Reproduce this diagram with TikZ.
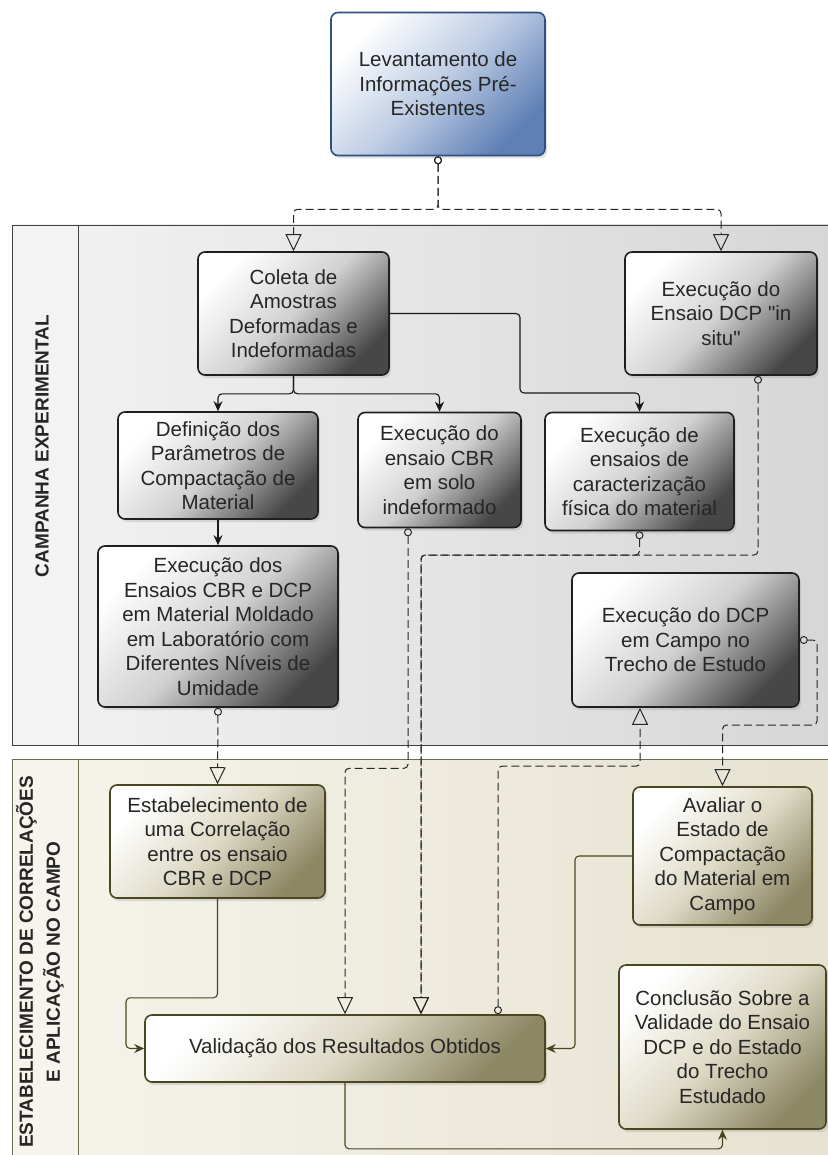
\documentclass[tikz,border=0pt]{standalone}
\usepackage{fontspec}
\setmainfont{Liberation Sans}[Ligatures=TeXOff]
\usetikzlibrary{arrows.meta, shadows, positioning}
\definecolor{flowblue}{RGB}{95, 128, 181}
\definecolor{flowbluelight}{RGB}{190, 205, 228}
\definecolor{flowbluedark}{RGB}{47, 79, 128}
\definecolor{flowolive}{RGB}{140, 135, 100}
\definecolor{flowolivelight}{RGB}{222, 218, 198}
\definecolor{flowolivedark}{RGB}{74, 70, 34}
\definecolor{lanegray}{RGB}{214, 214, 214}
\definecolor{lanegraylight}{RGB}{243, 243, 243}
\definecolor{lanebeige}{RGB}{230, 226, 208}
\definecolor{lanebeigelight}{RGB}{246, 244, 236}
\definecolor{laneline}{RGB}{64, 64, 64}

\begin{document}
\begin{tikzpicture}[
    x=1pt, y=-1pt,
    box/.style={
        rectangle,
        rounded corners=7pt,
        line width=1.6pt,
        align=center,
        inner sep=0pt,
        text=black!85,
        font=\fontsize{20.5}{24.5}\selectfont,
        drop shadow={shadow xshift=2pt, shadow yshift=-3pt, opacity=0.22}
    },
    graybox/.style={
        box,
        draw=black!88,
        top color=white,
        bottom color=black!72,
        middle color=black!18,
        shading angle=45
    },
    olivebox/.style={
        box,
        draw=flowolivedark,
        top color=white,
        bottom color=flowolive,
        middle color=flowolivelight,
        shading angle=45
    },
    bluebox/.style={
        box,
        draw=flowbluedark,
        top color=white,
        bottom color=flowblue,
        middle color=flowbluelight,
        shading angle=45
    },
    lanetitle/.style={
        rotate=90,
        align=center,
        text=black!85,
        font=\bfseries\fontsize{19}{27}\selectfont
    },
    flow/.style={
        draw=black!90,
        line width=1.1pt,
        rounded corners=4pt,
        -{Stealth[length=10pt, width=9pt]}
    },
    oliveflow/.style={
        flow,
        draw=flowolivedark
    },
    msgflow/.style={
        draw=black!85,
        line width=1pt,
        dash pattern=on 8pt off 4pt,
        rounded corners=4pt,
        {Circle[open, length=8pt, width=8pt]}-{Triangle[open, length=17pt, width=16pt]}
    }
]

\useasboundingbox (0,0) rectangle (827,1155);
\fill[white] (0,0) rectangle (827,1155);

% Lanes
\shade[left color=lanegraylight, right color=lanegray] (12,225) rectangle (840,745);
\fill[lanegraylight] (12,225) rectangle (78,745);
\draw[laneline, line width=0.8pt] (12,225) rectangle (840,745);
\draw[laneline, line width=0.8pt] (78,225) -- (78,745);

\shade[left color=lanebeigelight, right color=lanebeige] (12,759) rectangle (840,1200);
\fill[lanebeigelight] (12,759) rectangle (78,1200);
\draw[flowolivedark!80, line width=0.8pt] (12,759) rectangle (840,1200);
\draw[flowolivedark!80, line width=0.8pt] (78,759) -- (78,1200);

\node[lanetitle] (lanea) at (42,446) {CAMPANHA EXPERIMENTAL};
\node[lanetitle] (laneb) at (40,962) {ESTABELECIMENTO DE CORRELAÇÕES\\E APLICAÇÃO NO CAMPO};

% Process boxes
\node[bluebox, minimum width=214pt, minimum height=143pt] (lev) at (438,84) {Levantamento de\\Informações Pré-\\Existentes};

\node[graybox, minimum width=191pt, minimum height=123pt] (coleta) at (293.5,313.5) {Coleta de\\Amostras\\Deformadas e\\Indeformadas};
\node[graybox, minimum width=192pt, minimum height=123pt] (insitu) at (721,313.5) {Execução do\\Ensaio DCP "in\\situ"};
\node[graybox, minimum width=200pt, minimum height=107pt] (defin) at (218,465.5) {Definição dos\\Parâmetros de\\Compactação de\\Material};
\node[graybox, minimum width=163pt, minimum height=115pt] (cbr) at (439.5,470) {Execução do\\ensaio CBR\\em solo\\indeformado};
\node[graybox, minimum width=189pt, minimum height=118pt] (carac) at (639.5,471.5) {Execução de\\ensaios de\\caracterização\\física do material};
\node[graybox, minimum width=240pt, minimum height=161pt] (execens) at (218,626.5) {Execução dos\\Ensaios CBR e DCP\\em Material Moldado\\em Laboratório com\\Diferentes Níveis de\\Umidade};
\node[graybox, minimum width=227pt, minimum height=134pt] (dcpcampo) at (685.5,640) {Execução do DCP\\em Campo no\\Trecho de Estudo};

\node[olivebox, minimum width=215pt, minimum height=113pt] (estab) at (217.5,841.5) {Estabelecimento de\\uma Correlação\\entre os ensaio\\CBR e DCP};
\node[olivebox, minimum width=179pt, minimum height=138pt] (avaliar) at (722.5,856) {Avaliar o\\Estado de\\Compactação\\do Material em\\Campo};
\node[olivebox, minimum width=400pt, minimum height=67pt] (valid) at (345,1048.5) {Validação dos Resultados Obtidos};
\node[olivebox, minimum width=207pt, minimum height=164pt] (conclus) at (722.5,1047) {Conclusão Sobre a\\Validade do Ensaio\\DCP e do Estado\\do Trecho\\Estudado};

% Connections
\draw[msgflow] (lev.south) -- ++(0,53) -| (coleta.north);
\draw[msgflow] (lev.south) -- ++(0,53) -| (insitu.north);

\draw[flow] (coleta.south) -- ++(0,18) -| (defin.north);
\draw[flow] (coleta.south) -- ++(0,18) -| (cbr.north);
\draw[flow] (coleta.east) -| (520,393) -| (carac.north);
\draw[flow] (defin) -- (execens);

\draw[msgflow] ([xshift=37pt]insitu.south) |- (421,555) -- ([xshift=76pt]valid.north);
\draw[msgflow] (carac.south) |- (421,555) -- ([xshift=76pt]valid.north);
\draw[msgflow] ([xshift=-31.5pt]cbr.south) -- ++(0,240) -| (valid.north);
\draw[msgflow] ([xshift=153pt]valid.north) -- ++(0,-248) -| ([xshift=-45.5pt]dcpcampo.south);
\draw[msgflow] (execens.south) -- (estab.north);
\draw[msgflow] (dcpcampo.east) -| (817,725) -| (avaliar.north);

\draw[oliveflow] (estab.south) -- ++(0,99) -| (126,1048.5) -- (valid.west);
\draw[oliveflow] (avaliar.west) -| (575,1048.5) -- (valid.east);
\draw[oliveflow] (valid.south) -- ++(0,66) -| (conclus.south);

\end{tikzpicture}
\end{document}
